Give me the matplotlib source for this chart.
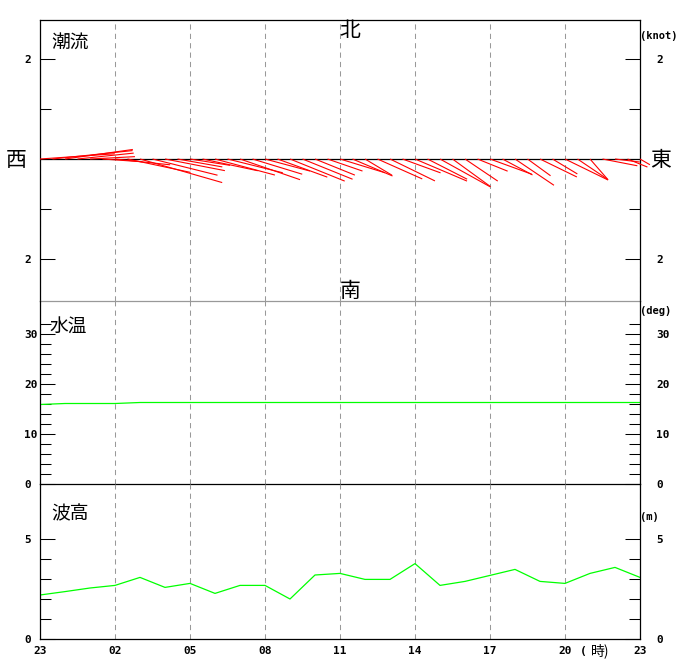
#!/usr/bin/env python3

'''
Plot tidal current sticks, water temperature and wave height (24h)
'''

import numpy as np
import matplotlib
matplotlib.use('Agg')
import matplotlib.pyplot as plt
from matplotlib.collections import LineCollection

JP = ['Noto Sans CJK JP', 'DejaVu Sans']
NUM = 'DejaVu Sans Mono'

# hour labels (23:00 -> 23:00 next day)
hour_ticks = [0, 3, 6, 9, 12, 15, 18, 21, 24]
hour_labels = ['23', '02', '05', '08', '11', '14', '17', '20', '23']

# current, every 30 min: speed (knot) and direction toward (deg, clockwise from north)
cur_time = np.arange(49) * 0.5
cur_speed = [1.50, 1.61, 1.37, 1.13, 0.90, 0.80, 1.11, 1.29, 1.71, 1.34,
             1.22, 0.91, 0.81, 1.13, 1.24, 1.14, 1.27, 1.04, 0.93, 1.06,
             1.18, 1.08, 0.86, 0.74, 0.94, 0.87, 0.63, 0.98, 1.00, 0.81,
             1.13, 0.89, 1.15, 0.94, 0.79, 0.65, 0.89, 0.68, 0.94, 0.57,
             0.82, 0.58, 0.96, 0.72, 0.55, 0.71, 0.50, 0.43, 0.23]
cur_dir = [86, 84, 82, 84, 87, 94, 96, 102, 106, 104,
           101, 100, 99, 102, 105, 104, 109, 107, 105, 110,
           112, 112, 112, 109, 107, 113, 121, 114, 116, 110,
           113, 117, 119, 126, 124, 112, 110, 118, 124, 126,
           116, 121, 116, 124, 139, 101, 97, 112, 120]

# water temperature (deg), hourly
temp_time = np.arange(25)
temp = [15.9, 16.1, 16.1, 16.1, 16.3, 16.3, 16.3, 16.3, 16.3, 16.3,
        16.3, 16.3, 16.3, 16.3, 16.3, 16.3, 16.3, 16.3, 16.3, 16.3,
        16.3, 16.3, 16.3, 16.3, 16.3]

# wave height (m), hourly
wave_time = np.arange(25)
wave = [2.20, 2.37, 2.55, 2.68, 3.08, 2.58, 2.78, 2.28, 2.68, 2.68,
        2.00, 3.20, 3.28, 2.98, 2.98, 3.77, 2.68, 2.88, 3.18, 3.48,
        2.88, 2.78, 3.28, 3.58, 3.08]

W, H = 680, 660
fig = plt.figure(figsize=(W / 100, H / 100), dpi=100)


def add_panel(top, bottom):
    return fig.add_axes([40 / W, (H - bottom) / H, 600 / W, (bottom - top) / H])


ax_c = add_panel(20, 301)
ax_t = add_panel(301, 484)
ax_w = add_panel(484, 639)

for ax in (ax_c, ax_t, ax_w):
    ax.set_facecolor('none')
    ax.set_xlim(0, 24)
    ax.set_xticks(hour_ticks)
    ax.grid(axis='x', color='#999999', linewidth=0.75, linestyle=(0, (5, 4)))
    ax.set_axisbelow(True)
    ax.tick_params(axis='x', length=0, labelbottom=False)
    ax.tick_params(axis='y', which='both', direction='in', left=True, right=True,
                   labelleft=True, labelright=True, labelsize=8, width=0.75)
    ax.tick_params(axis='y', which='major', length=11)
    ax.tick_params(axis='y', which='minor', length=8)
    for s in ax.spines.values():
        s.set_linewidth(0.9)

# --- current panel ---
ax_c.set_ylim(-2.84, 2.78)
ax_c.set_yticks([-2, 2])
ax_c.set_yticklabels(['2', '2'], family=NUM, weight='bold')
ax_c.set_yticks([-1, 1], minor=True)
ax_c.spines['bottom'].set_color('#999999')
ax_c.axhline(0, color='black', linewidth=0.9, zorder=2)

# stick ends, length in y-axis units (knot) in every direction
to_px = ax_c.transData
px_per_knot = to_px.transform((0, 1))[1] - to_px.transform((0, 0))[1]
segs = []
for t, sp, d in zip(cur_time, cur_speed, cur_dir):
    x0, y0 = to_px.transform((t, 0))
    r = np.radians(d)
    x1 = x0 + sp * px_per_knot * np.sin(r)
    y1 = y0 + sp * px_per_knot * np.cos(r)
    end = to_px.inverted().transform((x1, y1))
    segs.append([(t, 0), tuple(end)])
ax_c.add_collection(LineCollection(segs, colors='red', linewidths=0.8,
                                   zorder=3, clip_on=False))

# --- water temperature panel ---
ax_t.set_ylim(0, 36.6)
ax_t.set_yticks([0, 10, 20, 30])
ax_t.set_yticklabels(['0', '10', '20', '30'], family=NUM, weight='bold')
ax_t.set_yticks(np.arange(2, 33, 2), minor=True)
ax_t.spines['top'].set_visible(False)
ax_t.plot(temp_time, temp, color='#00ff00', linewidth=0.9)

# --- wave panel ---
ax_w.set_ylim(0, 7.75)
ax_w.set_yticks([0, 5])
ax_w.set_yticklabels(['0', '5'], family=NUM, weight='bold')
ax_w.set_yticks([1, 2, 3, 4], minor=True)
ax_w.spines['top'].set_visible(False)
ax_w.plot(wave_time, wave, color='#00ff00', linewidth=0.9)
ax_w.tick_params(axis='x', labelbottom=True, pad=5, labelsize=8)
ax_w.set_xticklabels(hour_labels, family=NUM, weight='bold')

# tick labels left aligned on both sides
for ax in (ax_c, ax_t, ax_w):
    ax.yaxis.set_tick_params(which='major', pad=11.5)
    for tk in ax.yaxis.get_major_ticks():
        tk.label1.set_horizontalalignment('left')
        tk.label2.set_horizontalalignment('left')
    for lab in ax.yaxis.get_ticklabels(which='both'):
        lab.set_fontsize(8)


def ftext(x, y, s, **kw):
    fig.text(x / W, 1 - y / H, s, **kw)


# direction labels and titles
ftext(350, 31, '北', family=JP, fontsize=15, ha='center', va='center')
ftext(350, 291, '南', family=JP, fontsize=15, ha='center', va='center')
ftext(16, 160, '西', family=JP, fontsize=15, ha='center', va='center')
ftext(661, 160, '東', family=JP, fontsize=15, ha='center', va='center')
ftext(51, 42, '潮流', family=JP, fontsize=13.5, ha='left', va='center')
ftext(49, 327, '水温', family=JP, fontsize=13.5, ha='left', va='center')
ftext(51, 514, '波高', family=JP, fontsize=13.5, ha='left', va='center')
ftext(640, 36, '(knot)', family=NUM, fontsize=7.5, weight='bold', ha='left', va='center')
ftext(640, 311, '(deg)', family=NUM, fontsize=7.5, weight='bold', ha='left', va='center')
ftext(640, 517, '(m)', family=NUM, fontsize=7.5, weight='bold', ha='left', va='center')
ftext(580, 651, '(', family=NUM, fontsize=8, weight='bold', ha='left', va='center')
ftext(591, 651, '時)', family=JP, fontsize=10, ha='left', va='center')

plt.savefig('out.png', dpi=100)
